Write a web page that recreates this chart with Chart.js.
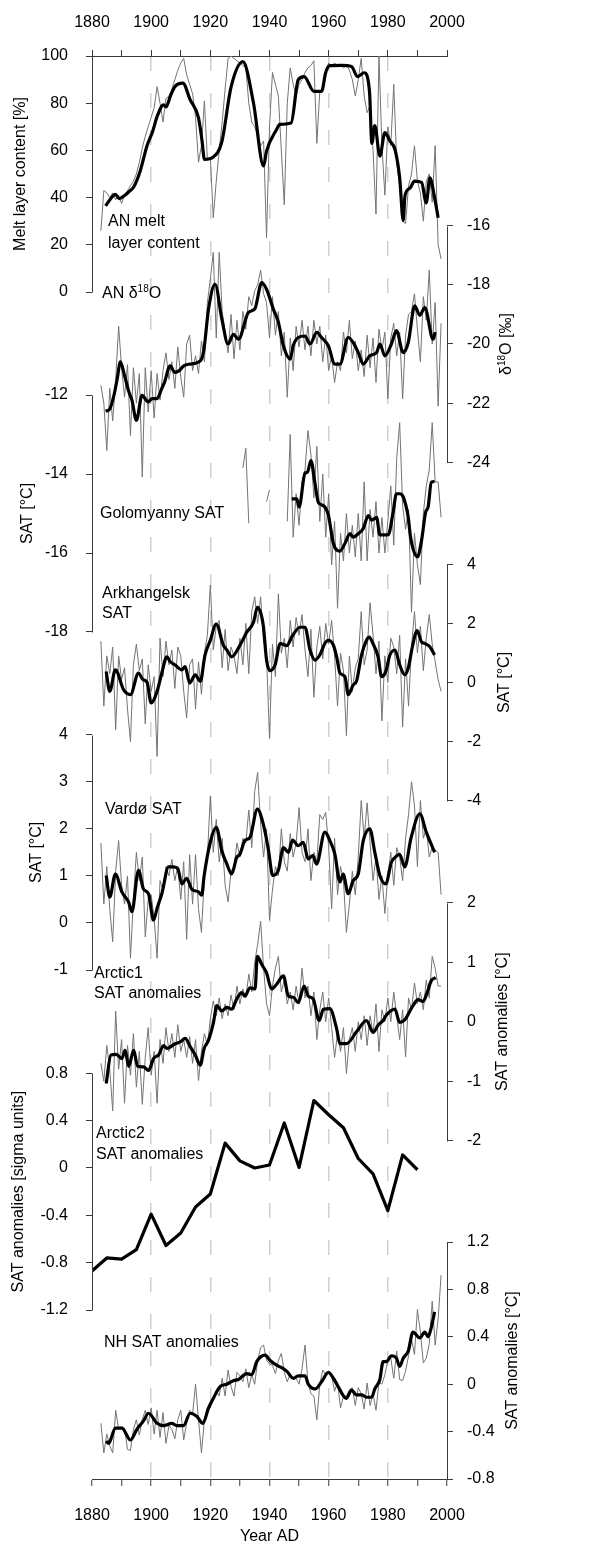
<!DOCTYPE html>
<html>
<head>
<meta charset="utf-8">
<script src="https://cdn.jsdelivr.net/npm/chart.js@4"></script>
<style>
  html, body { margin: 0; padding: 0; background: #fff; }
  canvas { display: block; }
</style>
</head>
<body>
<canvas id="chart" width="597" height="1544" style="width:597px;height:1544px"></canvas>
<script>
// ---- data ----
const yearTicks = [1880, 1890, 1900, 1910, 1920, 1930, 1940, 1950, 1960, 1970, 1980, 1990, 2000];

// AN melt layer content [%]
const meltTicks = [0, 20, 40, 60, 80, 100];
const meltStart = 1883;
const meltAnnual = [26, 43, 42, 40, 42, 39, 41, 37.5, 41, 43, 45, 47, 50, 55, 61, 66, 70,
  74, 78, 87, 80, 72, 82, 83, 86, 90, 94, 97, 99, 92, 88, 84, 74, 55, 62, 81, 56,
  57, 31.5, 47, 60, 72, 86, 99, 100, 99, 98, 97, 96, 95, 80, 72, 70, 66, 62, 64, 23,
  70, 93, 88, 83, 60, 37, 80, 95, 88, 83, 88, 90, 93, 95, 96, 98, 63, 85, 86, 94,
  97, 96, 97, 96, 96, 95, 96, 94, 90, 83, 90, 99, 83, 76, 79, 60, 33, 100, 62, 41,
  70, 62, 88, 55, 45, 30, 29, 45, 50, 62, 47, 42, 30, 47, 50, 38, 62, 20, 14];
const meltSmoothYears = [1884.6, 1886, 1887.9, 1889.2, 1890.9, 1892.5, 1894.1, 1896.3, 1898.6, 1900.5,
  1902, 1904.2, 1905, 1906.5, 1908, 1910.7, 1913.2, 1916, 1917.2, 1918, 1921, 1923.9, 1927, 1931,
  1934.6, 1938, 1939, 1942.4, 1943.5, 1947.3, 1949.7, 1951.7, 1955, 1957.6, 1959, 1960.4, 1964.4,
  1967.7, 1969.8, 1972, 1973.8, 1974.6, 1975.6, 1977.3, 1979, 1980.7, 1982.4, 1984, 1985.2, 1985.8,
  1987.5, 1989, 1991.4, 1993, 1994.2, 1995.8, 1997];
const meltSmooth = [36.5, 39, 41.4, 39.6, 40.8, 42.5, 44.5, 51.3, 62, 68, 74.3, 79.3, 78.4, 83, 87,
  88.5, 81.4, 73.8, 64, 56.2, 57.2, 63.7, 86.8, 97.6, 80, 53.4, 59.7, 68.9, 71, 71.6, 89.9, 91.3,
  85, 85, 93, 95.9, 96, 95.5, 91.3, 92.9, 85, 63, 70.5, 57.6, 67.5, 64, 60.4, 48.4, 30.3, 40.8,
  44, 47, 46.4, 37.8, 48.4, 40, 31.5];

// AN d18O [permil]
const d18oTicks = [-24, -22, -20, -18, -16];
const d18oStart = 1883;
const d18oAnnual = [-21.4, -22.0, -23.6, -21.5, -22.6, -21.2, -19.4, -20.8, -21.8, -20.7, -23.1,
  -20.8, -22.0, -21.0, -24.5, -20.8, -22.3, -20.9, -22.5, -21.0, -21.9, -20.9, -20.3, -21.2,
  -20.6, -21.5, -20.1, -21.1, -21.8, -20.0, -19.7, -20.9, -20.4, -21.0, -19.9, -20.6, -18.6,
  -17.8, -16.9, -19.8, -16.9, -18.9, -19.6, -20.3, -19.0, -20.5, -19.2, -20.2, -18.9, -19.5,
  -18.4, -18.7, -18.2, -18.0, -17.5, -18.3, -18.6, -19.8, -18.4, -19.7, -18.9, -20.4, -19.6,
  -21.8, -19.8, -20.9, -19.4, -20.1, -19.2, -20.2, -19.4, -20.4, -19.2, -20.0, -19.4, -20.6,
  -19.7, -20.9, -20.4, -21.3, -20.6, -20.9, -19.6, -20.3, -19.2, -20.5, -19.9, -20.9, -20.2,
  -21.1, -19.7, -20.8, -19.8, -21.3, -19.5, -20.2, -19.6, -21.85, -19.8, -19.3, -20.4, -19.6,
  -21.85, -19.7, -19.0, -18.9, -18.3, -19.5, -20.6, -18.4, -19.2, -17.5, -20.0, -18.6, -22.1, -19.3];
const d18oSmoothYears = [1884.6, 1886, 1887.5, 1888.5, 1889.6, 1891, 1892.4, 1893.5, 1895, 1896.9,
  1899, 1900.3, 1902, 1903.6, 1904.5, 1906.4, 1908, 1909.5, 1911, 1913, 1916.6, 1917.8, 1919.4,
  1921.6, 1923.9, 1926, 1927.8, 1929.5, 1932.9, 1935, 1937.4, 1939, 1941.3, 1943, 1944.7, 1947,
  1948, 1949.7, 1952, 1953.7, 1956, 1957.6, 1959.9, 1962.1, 1963.8, 1966.6, 1968.3, 1970, 1971.7,
  1973.9, 1976.2, 1977.3, 1979, 1981.2, 1982.9, 1985.2, 1986.9, 1989.1, 1990.8, 1992.5, 1995.3, 1996];
const d18oSmooth = [-22.27, -22.2, -21.7, -21.19, -20.6, -21.07, -21.6, -21.9, -22.58, -21.74,
  -21.96, -21.85, -21.85, -21.5, -21.3, -20.74, -20.96, -20.9, -20.74, -20.68, -20.57, -20.2,
  -18.82, -17.98, -19.16, -20, -19.67, -19.84, -18.93, -18.82, -17.92, -18.15, -18.82, -19.27,
  -20.06, -20.51, -20.06, -19.78, -19.73, -20, -19.61, -19.78, -20.06, -20.68, -20.68, -19.78,
  -19.95, -20.29, -20.68, -20.4, -20.29, -20, -20.4, -20, -19.55, -20.29, -19.95, -18.71, -19.03,
  -18.77, -19.84, -19.6];

// Golomyanny SAT [C] (gaps as null)
const golTicks = [-18, -16, -14, -12];
const golStart = 1931;
const golAnnual = [-13.85, -13.35, -15.25, null, null, null, null, null, -14.7, -14.4,
  null, null, null, null, null,
  -15.2, -13.0, -15.6, -14.5, -15.3, -14.2, -13.9, -12.9, -13.5, -14.6, -13.3, -15.2, -14.0,
  -15.6, -14.5, -16.3, -15.2, -17.4, -15.5, -16.2, -15.0, -16.0, -15.3, -16.1, -15.0, -16.2,
  -14.2, -16.2, -14.9, -15.6, -14.7, -16.0, -15.1, -16.0, -15.2, -14.3, -15.8, -13.6, -12.7,
  -14.8, -15.4, -14.9, -17.5, -15.5, -16.3, -16.8, -15.0, -14.3, -13.9, -12.7, -14.2, -14.2, -15.1];
const golSmoothYears = [1947.5, 1949.2, 1950, 1952, 1952.8, 1954, 1955.4, 1956.5, 1958.2, 1959.9,
  1961.6, 1963.8, 1965.5, 1967.2, 1968.3, 1970, 1971.7, 1973.4, 1974.5, 1976.2, 1977.3, 1980.1,
  1981.8, 1982.9, 1984, 1985.2, 1986.9, 1987.6, 1988.5, 1990, 1991.4, 1992.8, 1993.6, 1994.7, 1995.8];
const golSmooth = [-14.63, -14.63, -14.84, -13.98, -13.96, -13.66, -14.25, -14.72, -14.8, -15.04,
  -15.76, -15.95, -15.76, -15.51, -15.6, -15.51, -15.38, -15.05, -15.17, -15.1, -15.54, -15.54,
  -14.96, -14.5, -14.5, -14.58, -15.1, -15.55, -15.89, -16.1, -15.68, -14.96, -14.84, -14.21, -14.19];

// Arkhangelsk SAT [C]
const arkTicks = [-4, -2, 0, 2, 4];
const arkStart = 1883;
const arkAnnual = [1.4, -0.8, 0.9, 0.3, 1.2, -1.6, 0.9, 0.1, 0.5, -0.9, -2.0, 0.6, 1.3, 0.4, 0.8,
  -1.4, 0.6, -0.3, 0.2, -2.5, 1.5, 0.2, 1.4, 0.6, 1.1, -0.2, 1.2, 0.9, -0.3, -1.2, 0.6, 0.8, -0.9,
  0.7, -0.4, 1.0, 1.6, 3.3, 1.1, 1.9, 2.1, 0.5, 1.8, 0.4, 1.2, 0.9, 0.3, 1.5, 0.6, 2.0, 0.3, 2.4,
  2.9, 2.0, 2.9, 1.4, 0.9, -1.9, 1.3, 0.2, 3.0, 1.0, 1.5, 0.5, 2.1, 1.2, 2.2, 1.6, 2.3, 1.1, 0.2,
  1.8, -0.5, 1.2, 1.9, 0.8, 2.0, 1.3, 2.1, 0.9, -0.8, 1.0, 0.4, -1.8, 0.9, -0.3, 0.5, 0.8, 2.4,
  0.6, 1.1, 2.7, 1.6, 0.3, 1.4, -1.3, 0.9, 0.0, 1.5, 1.2, 0.3, 1.6, -1.5, 0.8, -0.8, 1.2, 2.4,
  1.0, 1.9, 0.4, 1.5, 2.3, 1.3, 0.7, 0.1, -0.3];
const arkSmoothYears = [1884.8, 1886, 1887.9, 1890.7, 1893, 1895.7, 1897.2, 1898.6, 1900, 1902,
  1903.6, 1905.3, 1906.4, 1908, 1910.4, 1911.5, 1913, 1914.9, 1916.6, 1918.2, 1920, 1922, 1924.4,
  1925.6, 1927.2, 1930.3, 1932.3, 1934.6, 1935.9, 1937.9, 1939, 1940.2, 1941.9, 1943.6, 1945.8,
  1947.8, 1950.3, 1952, 1953.7, 1955.4, 1957, 1958.7, 1959.9, 1961.6, 1962.7, 1963.8, 1965.5,
  1966.6, 1968.3, 1969.4, 1971.1, 1972.8, 1973.7, 1975, 1976.7, 1977.9, 1979.3, 1980.7, 1982.4,
  1984, 1985.7, 1986.9, 1988.3, 1989.9, 1991.4, 1992.5, 1994.2, 1995.8];
const arkSmooth = [0.37, -0.3, 0.43, -0.25, -0.41, 0.32, 0.1, 0.01, -0.69, -0.3, 0.32, 0.87, 0.71,
  0.6, 0.43, 0.54, -0.02, 0.26, 0.04, 0.93, 1.43, 1.98, 1.26, 1.1, 0.87, 1.31, 1.7, 2.04, 2.54,
  1.93, 0.76, 0.4, 0.6, 1.32, 1.25, 1.59, 1.87, 1.87, 1.1, 0.76, 0.93, 1.32, 1.43, 1.26, 0.87,
  0.32, 0.2, -0.41, -0.08, 0.04, 0.93, 1.43, 1.54, 1.31, 0.87, 0.2, 0.37, 0.93, 1.1, 0.6, 0.26,
  0.49, 1.21, 1.76, 1.37, 1.32, 1.21, 0.93];

// Vardo SAT [C]
const varTicks = [-1, 0, 1, 2, 3, 4];
const varStart = 1883;
const varAnnual = [1.7, 0.4, 1.2, 0.3, -0.4, 1.1, 1.75, 0.8, 0.4, 1.0, -0.75, 0.5, 1.5, 0.9, 1.4,
  -0.3, 0.5, 0.6, 0.1, -0.75, 0.9, 0.7, 1.2, 1.0, 1.35, 0.9, 1.2, 0.5, 1.3, -0.35, 1.45, 0.4, 1.45,
  0.3, -0.2, 1.0, 1.4, 2.7, 1.5, 2.2, 1.3, 1.8, 0.8, 0.45, 1.1, 1.2, 1.7, 1.4, 1.8, 1.7, 2.4, 1.6,
  2.8, 3.2, 2.1, 1.4, 2.0, 0.06, 0.7, 1.2, 1.0, 2.0, 1.3, 1.1, 1.9, 1.4, 1.7, 2.45, 1.5, 1.3, 2.0,
  0.9, 1.5, 1.3, 2.3, 2.2, 2.35, 1.6, 0.3, 1.8, 0.6, 1.2, 0.9, -0.2, 0.4, 1.1, 0.6, 1.4, 2.6, 1.8,
  2.55, 1.7, 0.9, 1.4, 0.5, 1.0, 0.2, 1.0, 1.5, 0.8, 1.6, 1.4, 0.9, 1.8, 2.3, 3.0, 2.5, 1.2, 2.6,
  1.8, 2.0, 1.4, 1.6, 1.55, 1.5, 0.6];
const varSmoothYears = [1884.8, 1886, 1887.9, 1890.1, 1892.4, 1893.5, 1895.7, 1897.4, 1899.1, 1900.8,
  1902, 1903.6, 1905.9, 1907.6, 1909, 1910.4, 1912, 1913.7, 1916, 1917.1, 1917.9, 1920, 1922,
  1923.9, 1925.6, 1927.2, 1928.9, 1930, 1931.7, 1933.4, 1935.9, 1937.9, 1939.6, 1941.1, 1943,
  1944.7, 1946.4, 1947.8, 1949.7, 1951.4, 1953.1, 1954.6, 1955.9, 1958.7, 1960.4, 1962.1, 1963.8,
  1964.9, 1966.6, 1968.3, 1970, 1971.7, 1973.9, 1975.6, 1977.3, 1979.3, 1981.2, 1982.4, 1984,
  1985.7, 1987.9, 1990.8, 1993, 1995.8];
const varSmooth = [1.01, 0.55, 1.04, 0.66, 0.44, 0.24, 1.12, 0.72, 0.62, 0.06, 0.31, 0.62, 1.19,
  1.19, 1.15, 0.83, 0.95, 0.72, 0.66, 0.59, 1.0, 1.72, 2.03, 1.53, 1.25, 1.04, 1.39, 1.46, 1.75,
  1.82, 2.42, 2.1, 1.57, 1.01, 1.12, 1.6, 1.5, 1.76, 1.64, 1.71, 1.36, 1.43, 1.25, 1.93, 1.75,
  1.46, 0.87, 1.04, 0.62, 0.9, 1.04, 1.75, 2.0, 1.5, 1.01, 0.83, 1.29, 1.39, 1.46, 1.19, 1.82,
  2.32, 1.93, 1.5];

// Arctic1 SAT anomalies [C]
const arc1Ticks = [-2, -1, 0, 1, 2];
const arc1Start = 1883;
const arc1Annual = [-0.7, -1.0, -0.4, -0.8, -1.5, 0.18, -0.8, -0.3, -1.37, -0.4, -0.9, -0.2, -1.1,
  -0.5, -1.39, -0.6, -0.1, -0.9, -0.5, -1.37, -0.3, -0.7, -0.1, -0.5, -0.2, -0.6, -0.05, -0.5,
  -0.3, -0.6, -0.25, -0.7, -0.3, -0.99, -0.5, -0.2, -0.4, 0.05, 0.35, 0.1, 0.4, 0.05, 0.3, 0.1,
  0.45, 0.2, 0.6, 0.3, 0.55, 0.4, 0.8, 0.5, 1.0, 1.3, 1.69, 0.9, 0.3, 0.1, 0.6, 0.9, 1.1, 0.5,
  0.7, 0.3, 0.5, 0.2, 0.6, 0.3, 0.9, 0.4, 0.6, 0.1, 0.5, -0.3, 0.2, 0.5, 0.0, 0.4, -0.1, -0.6,
  -0.2, -0.5, -0.1, -0.87, -0.3, -0.1, -0.5, 0.0, -0.3, 0.1, -0.4, 0.1, -0.2, 0.3, -0.5, 0.2, 0.0,
  0.4, 0.0, 0.5, 0.1, -0.3, 0.2, -0.59, 0.4, 0.2, 0.65, 0.3, 0.5, 0.2, 0.7, 0.4, 1.1, 0.9, 0.6, 0.6];
const arc1SmoothYears = [1884.8, 1886.4, 1888.2, 1890.1, 1891.2, 1892.4, 1894.1, 1895.4, 1897.4,
  1899.1, 1900.8, 1902.5, 1904.2, 1905.3, 1908.1, 1909.8, 1911.5, 1913.2, 1914.9, 1916.6, 1917.9,
  1919.4, 1921, 1922.2, 1923.9, 1925.6, 1927.2, 1928.9, 1930.6, 1931.7, 1933.4, 1935.1, 1935.9,
  1937.4, 1939, 1940.7, 1942.4, 1944.7, 1946.4, 1948.1, 1949.7, 1951.7, 1953.1, 1954.8, 1956.8,
  1958.2, 1960.4, 1962.7, 1963.8, 1966, 1969.4, 1972.8, 1975, 1976.7, 1978.4, 1979.5, 1982.4,
  1984, 1985.7, 1988.5, 1990.2, 1991.9, 1993.3, 1994.7, 1996.2];
const arc1Smooth = [-1.04, -0.56, -0.55, -0.62, -0.48, -0.75, -0.48, -0.75, -0.76, -0.82, -0.62,
  -0.56, -0.4, -0.45, -0.37, -0.34, -0.28, -0.42, -0.56, -0.73, -0.45, -0.31, -0.03, 0.27, 0.18,
  0.24, 0.21, 0.38, 0.49, 0.43, 0.57, 0.55, 1.1, 0.96, 0.82, 0.55, 0.63, 0.77, 0.43, 0.41, 0.32,
  0.6, 0.43, 0.38, 0.02, 0.21, 0.22, -0.12, -0.37, -0.37, -0.17, 0.02, -0.18, -0.06, 0.02, 0.11,
  0.21, -0.01, 0.03, 0.27, 0.37, 0.34, 0.49, 0.69, 0.74];

// Arctic2 SAT anomalies [sigma units], 5-year values
const arc2Ticks = [-1.2, -0.8, -0.4, 0, 0.4, 0.8];
const arc2Years = [1880, 1885, 1890, 1895, 1900, 1905, 1910, 1915, 1920, 1925, 1930, 1935, 1940,
  1945, 1950, 1955, 1960, 1965, 1970, 1975, 1980, 1985, 1990];
const arc2Values = [-0.87, -0.76, -0.77, -0.69, -0.39, -0.655, -0.55, -0.33, -0.22, 0.21, 0.06, 0.0,
  0.025, 0.38, 0.005, 0.57, 0.45, 0.34, 0.08, -0.05, -0.36, 0.11, -0.015];

// NH SAT anomalies [C]
const nhTicks = [-0.8, -0.4, 0, 0.4, 0.8, 1.2];
const nhStart = 1883;
const nhAnnual = [-0.33, -0.58, -0.42, -0.52, -0.58, -0.22, -0.38, -0.36, -0.37, -0.55, -0.56,
  -0.38, -0.3, -0.43, -0.3, -0.22, -0.34, -0.2, -0.42, -0.22, -0.45, -0.24, -0.5, -0.35, -0.38,
  -0.46, -0.3, -0.22, -0.47, -0.33, -0.22, -0.25, 0.0, -0.3, -0.58, -0.3, -0.2, -0.2, -0.12, -0.05,
  -0.1, 0.05, -0.1, 0.12, -0.02, -0.1, 0.1, 0.07, 0.02, 0.13, -0.03, 0.08, 0.0, 0.2, 0.31, 0.33,
  0.2, 0.17, 0.16, 0.09, 0.2, 0.26, 0.1, 0.02, 0.09, 0.04, 0.05, 0.0, 0.13, 0.33, 0.02, -0.08,
  -0.1, -0.3, 0.0, 0.12, 0.08, 0.1, 0.07, -0.06, 0.02, -0.2, -0.1, -0.1, -0.05, -0.03, -0.18,
  -0.03, -0.08, -0.21, 0.01, -0.18, -0.08, -0.22, 0.02, 0.0, 0.08, 0.2, 0.22, 0.05, 0.28, 0.04,
  0.03, 0.11, 0.24, 0.38, 0.25, 0.63, 0.44, 0.18, 0.22, 0.34, 0.7, 0.33, 0.55, 0.92];
const nhSmoothYears = [1884.8, 1885.6, 1887.9, 1890.1, 1893, 1895.2, 1897.4, 1899.1, 1902, 1904.2,
  1907, 1908.7, 1910.9, 1913.2, 1915.4, 1917.5, 1919.4, 1921, 1923.3, 1925.6, 1927.8, 1929.5,
  1932.3, 1934, 1935.7, 1938.5, 1940.2, 1942.4, 1944.1, 1945.8, 1948.1, 1949.7, 1952, 1953.1,
  1955.4, 1957.6, 1959.9, 1961.6, 1963.2, 1966, 1967.7, 1969.4, 1971.1, 1972.8, 1974.5, 1975.6,
  1977.3, 1978.4, 1979.5, 1981.2, 1982.9, 1984, 1985.2, 1986.9, 1988.5, 1990.8, 1992.5, 1993.6,
  1994.7, 1995.8];
const nhSmooth = [-0.48, -0.5, -0.37, -0.37, -0.47, -0.38, -0.31, -0.245, -0.33, -0.35, -0.33,
  -0.35, -0.35, -0.245, -0.27, -0.33, -0.2, -0.12, -0.02, 0.0, 0.03, 0.04, 0.09, 0.08, 0.19,
  0.245, 0.2, 0.16, 0.14, 0.11, 0.05, 0.07, 0.07, 0.0, -0.04, 0.02, 0.1, 0.05, -0.02, -0.12,
  -0.05, -0.09, -0.09, -0.11, -0.11, -0.04, 0.04, 0.19, 0.19, 0.24, 0.22, 0.15, 0.22, 0.28, 0.44,
  0.39, 0.44, 0.4, 0.48, 0.61];

// ---- layout / style ----
const FONT = "'Liberation Sans', Arial, sans-serif";
const AXIS = '#3a3a3a';
const GREY = '#747474';
const AREA = { top: 56, bottom: 1479 };

// where each stacked axis segment sits on the page
const panels = [
  { id: 'yMelt', side: 'left',  ticks: meltTicks, top: 56,    bottom: 292,    titleX: 21,
    title: [{ t: 'Melt layer content [%]' }] },
  { id: 'yD18O', side: 'right', ticks: d18oTicks, top: 225.7, bottom: 462.3,  titleX: 507,
    title: [{ t: 'δ' }, { t: '18', sup: true }, { t: 'O [‰]' }] },
  { id: 'yGol',  side: 'left',  ticks: golTicks,  top: 395,   bottom: 632,    titleX: 28,
    title: [{ t: 'SAT [°C]' }] },
  { id: 'yArk',  side: 'right', ticks: arkTicks,  top: 564.3, bottom: 800.7,  titleX: 505,
    title: [{ t: 'SAT [°C]' }] },
  { id: 'yVar',  side: 'left',  ticks: varTicks,  top: 734.7, bottom: 970,    titleX: 37,
    title: [{ t: 'SAT [°C]' }] },
  { id: 'yArc1', side: 'right', ticks: arc1Ticks, top: 902.7, bottom: 1140.7, titleX: 503,
    title: [{ t: 'SAT anomalies [°C]' }] },
  { id: 'yArc2', side: 'left',  ticks: arc2Ticks, top: 1073.3, bottom: 1310,  titleX: 19,
    title: [{ t: 'SAT anomalies [sigma units]' }] },
  { id: 'yNH',   side: 'right', ticks: nhTicks,   top: 1242,  bottom: 1479,   titleX: 513,
    title: [{ t: 'SAT anomalies [°C]' }] }
];

const seriesLabels = [
  { parts: [{ t: 'AN melt' }], x: 108, y: 222 },
  { parts: [{ t: 'layer content' }], x: 108, y: 244 },
  { parts: [{ t: 'AN δ' }, { t: '18', sup: true }, { t: 'O' }], x: 102, y: 294 },
  { parts: [{ t: 'Golomyanny SAT' }], x: 100, y: 514 },
  { parts: [{ t: 'Arkhangelsk' }], x: 102, y: 594 },
  { parts: [{ t: 'SAT' }], x: 102, y: 614 },
  { parts: [{ t: 'Vardø SAT' }], x: 105, y: 810 },
  { parts: [{ t: 'Arctic1' }], x: 94, y: 974 },
  { parts: [{ t: 'SAT anomalies' }], x: 94, y: 994 },
  { parts: [{ t: 'Arctic2' }], x: 96, y: 1134 },
  { parts: [{ t: 'SAT anomalies' }], x: 96, y: 1155 },
  { parts: [{ t: 'NH SAT anomalies' }], x: 104, y: 1343 }
];

// ---- helpers ----
function annual(start, values) {
  return values.map((v, i) => ({ x: start + i, y: v }));
}
function paired(years, values) {
  return years.map((yr, i) => ({ x: yr, y: values[i] }));
}
function greyLine(data, axis) {
  return { data, yAxisID: axis, xAxisID: 'x', borderColor: GREY, borderWidth: 1,
    pointRadius: 0, tension: 0, spanGaps: false, order: 2 };
}
function blackLine(data, axis, smooth = true) {
  return { data, yAxisID: axis, xAxisID: 'x', borderColor: '#000', borderWidth: 3.2,
    pointRadius: 0, cubicInterpolationMode: smooth ? 'monotone' : 'default', tension: 0,
    borderJoinStyle: 'round', order: 1 };
}

function drawRich(ctx, parts, x, y, align) {
  const fontFor = p => (p.sup ? '10px ' : '16px ') + FONT;
  const widths = parts.map(p => { ctx.font = fontFor(p); return ctx.measureText(p.t).width; });
  const total = widths.reduce((a, b) => a + b, 0);
  let cx = align === 'center' ? x - total / 2 : x;
  ctx.textAlign = 'left';
  ctx.textBaseline = 'middle';
  ctx.fillStyle = '#000';
  parts.forEach((p, i) => {
    ctx.font = fontFor(p);
    ctx.fillText(p.t, cx, p.sup ? y - 5 : y);
    cx += widths[i];
  });
}

// each y scale spans the whole plot; min/max chosen so its ticks land on its segment
function yScale(p) {
  const hi = Math.max(...p.ticks), lo = Math.min(...p.ticks);
  const ppu = (p.bottom - p.top) / (hi - lo);
  return {
    type: 'linear',
    position: p.side,
    min: lo - (AREA.bottom - p.bottom) / ppu,
    max: hi + (p.top - AREA.top) / ppu,
    afterBuildTicks: s => { s.ticks = p.ticks.map(v => ({ value: v })); },
    afterFit: s => { s.width = 0; },
    grid: { display: true, drawOnChartArea: false, drawTicks: true, tickLength: 6,
      tickColor: AXIS, tickWidth: 1 },
    border: { display: false },
    ticks: { autoSkip: false, padding: p.side === 'left' ? 18 : 14, color: '#000',
      font: { size: 16 }, callback: v => String(v) }
  };
}

const stackedAxes = {
  id: 'stackedAxes',
  // the y scales take no room in the layout; widen their boxes afterwards so
  // Chart.js does not clip their tick labels away
  afterLayout(chart) {
    panels.forEach(p => {
      const s = chart.scales[p.id];
      if (p.side === 'left') { s.left = 0; } else { s.right = chart.width; }
      s.width = s.right - s.left;
    });
  },
  afterDraw(chart) {
    const { ctx, chartArea } = chart;
    ctx.save();
    panels.forEach(p => {
      const s = chart.scales[p.id];
      const yTop = s.getPixelForValue(Math.max(...p.ticks));
      const yBot = s.getPixelForValue(Math.min(...p.ticks));
      const x = Math.round(p.side === 'left' ? chartArea.left : chartArea.right) + 0.5;
      ctx.strokeStyle = AXIS;
      ctx.lineWidth = 1;
      ctx.beginPath();
      ctx.moveTo(x, Math.round(yTop) + 0.5);
      ctx.lineTo(x, Math.round(yBot) + 0.5);
      ctx.stroke();
      ctx.save();
      ctx.translate(p.titleX, (yTop + yBot) / 2);
      ctx.rotate(-Math.PI / 2);
      drawRich(ctx, p.title, 0, 0, 'center');
      ctx.restore();
    });
    seriesLabels.forEach(l => drawRich(ctx, l.parts, l.x, l.y, 'left'));
    ctx.restore();
  }
};

Chart.defaults.font.family = FONT;
Chart.defaults.font.size = 16;
Chart.defaults.color = '#000';

const scales = {
  x: {
    type: 'linear', position: 'bottom', min: 1880, max: 2000,
    afterBuildTicks: s => { s.ticks = yearTicks.map(v => ({ value: v })); },
    afterFit: s => { s.height = 65; },
    grid: {
      display: true, drawOnChartArea: true, drawTicks: true, tickLength: 7,
      lineWidth: 1.5,
      color: c => (c.tick && c.tick.value % 20 === 0 && c.tick.value > 1880 && c.tick.value < 2000)
        ? '#cfcfcf' : 'rgba(0,0,0,0)',
      tickColor: AXIS, tickWidth: 1, tickBorderDash: []
    },
    border: { display: true, color: AXIS, width: 1, dash: [15, 22] },
    ticks: { autoSkip: false, maxRotation: 0, padding: 20, color: '#000',
      callback: v => (v % 20 === 0 ? String(v) : '') },
    title: { display: true, text: 'Year AD', color: '#000', font: { size: 16 },
      padding: { top: 0, bottom: -2 } }
  },
  xTop: {
    type: 'linear', position: 'top', min: 1880, max: 2000,
    afterBuildTicks: s => { s.ticks = yearTicks.map(v => ({ value: v })); },
    afterFit: s => { s.height = 56; },
    grid: { display: true, drawOnChartArea: false, drawTicks: true, tickLength: 6,
      tickColor: AXIS, tickWidth: 1 },
    border: { display: true, color: AXIS, width: 1 },
    ticks: { autoSkip: false, maxRotation: 0, padding: 18, color: '#000',
      callback: v => (v % 20 === 0 ? String(v) : '') }
  }
};
panels.forEach(p => { scales[p.id] = yScale(p); });

new Chart(document.getElementById('chart'), {
  type: 'line',
  data: {
    datasets: [
      greyLine(annual(meltStart, meltAnnual), 'yMelt'),
      blackLine(paired(meltSmoothYears, meltSmooth), 'yMelt'),
      greyLine(annual(d18oStart, d18oAnnual), 'yD18O'),
      blackLine(paired(d18oSmoothYears, d18oSmooth), 'yD18O'),
      greyLine(annual(golStart, golAnnual), 'yGol'),
      blackLine(paired(golSmoothYears, golSmooth), 'yGol'),
      greyLine(annual(arkStart, arkAnnual), 'yArk'),
      blackLine(paired(arkSmoothYears, arkSmooth), 'yArk'),
      greyLine(annual(varStart, varAnnual), 'yVar'),
      blackLine(paired(varSmoothYears, varSmooth), 'yVar'),
      greyLine(annual(arc1Start, arc1Annual), 'yArc1'),
      blackLine(paired(arc1SmoothYears, arc1Smooth), 'yArc1'),
      blackLine(paired(arc2Years, arc2Values), 'yArc2', false),
      greyLine(annual(nhStart, nhAnnual), 'yNH'),
      blackLine(paired(nhSmoothYears, nhSmooth), 'yNH')
    ]
  },
  options: {
    responsive: false,
    animation: false,
    devicePixelRatio: 1,
    layout: { padding: { left: 92, right: 150, top: 0, bottom: 0 }, autoPadding: false },
    plugins: { legend: { display: false }, tooltip: { enabled: false } },
    scales
  },
  plugins: [stackedAxes]
});
</script>
</body>
</html>
